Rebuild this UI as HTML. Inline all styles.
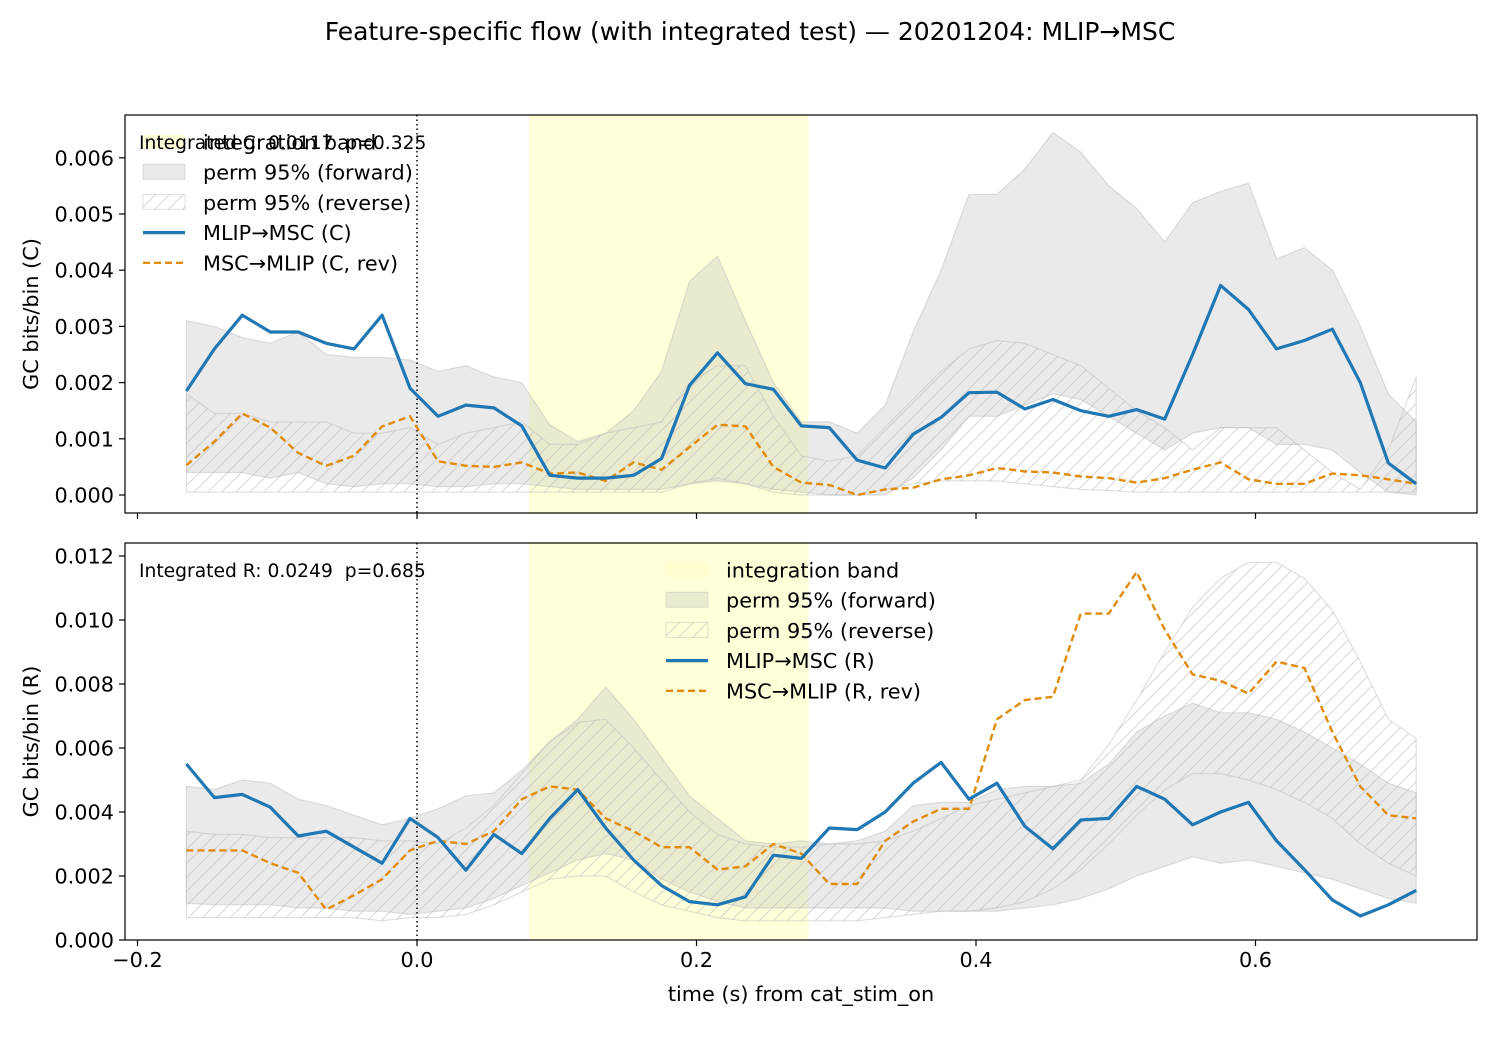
<!DOCTYPE html>
<html><head><meta charset="utf-8"><style>
html,body{margin:0;padding:0;background:#fff;}
svg{display:block;font-family:"DejaVu Sans","Liberation Sans",sans-serif;}
</style></head><body>
<svg id="fig" width="1500" height="1050" viewBox="0 0 1500 1050" xmlns="http://www.w3.org/2000/svg">
<defs>
<pattern id="hatch" patternUnits="userSpaceOnUse" width="14" height="14">
<path d="M0,14 L14,0 M-7,7 L7,-7 M7,21 L21,7" stroke="#bdbdbd" stroke-width="1" stroke-opacity="0.6"/>
</pattern>
</defs>
<rect width="1500" height="1050" fill="#fff"/>
<text x="750" y="40" text-anchor="middle" font-size="25">Feature-specific flow (with integrated test) — 20201204: MLIP→MSC</text>
<g id="p1"></g><g id="p2"></g>
<text x="801" y="1001" text-anchor="middle" font-size="20.8">time (s) from cat_stim_on</text>
</svg>
<script>
const times = [];
for (let i = 0; i < 45; i++) times.push(-0.165 + 0.02 * i);
const xTicks = [-0.2, 0.0, 0.2, 0.4, 0.6];
const xTickLabels = ["−0.2", "0.0", "0.2", "0.4", "0.6"];
const band = [0.08, 0.28];

const cForward = [0.00185,0.0026,0.0032,0.0029,0.0029,0.0027,0.0026,0.0032,0.0019,0.0014,0.0016,0.00155,0.00123,0.00035,0.0003,0.0003,0.00035,0.00065,0.00195,0.00253,0.00198,0.00188,0.00123,0.0012,0.00062,0.00048,0.00108,0.00138,0.00182,0.00183,0.00153,0.0017,0.0015,0.0014,0.00152,0.00135,0.0025,0.00373,0.0033,0.0026,0.00275,0.00295,0.002,0.00057,0.0002];
const cReverse = [0.00053,0.00095,0.00145,0.0012,0.00075,0.00052,0.0007,0.00122,0.0014,0.0006,0.00052,0.0005,0.00058,0.00038,0.0004,0.00025,0.00058,0.00045,0.00085,0.00125,0.00122,0.0005,0.00022,0.00018,0.0,0.0001,0.00013,0.00028,0.00035,0.00048,0.00042,0.0004,0.00033,0.0003,0.00022,0.0003,0.00045,0.00058,0.00028,0.0002,0.0002,0.00038,0.00035,0.00028,0.0002];
const cFwdHi = [0.0031,0.003,0.0028,0.0027,0.0029,0.0025,0.00245,0.00245,0.0024,0.0022,0.0023,0.0021,0.002,0.00125,0.00095,0.0011,0.0015,0.0022,0.0038,0.00425,0.0031,0.002,0.0013,0.0013,0.0011,0.0016,0.0029,0.004,0.00535,0.00535,0.0058,0.00645,0.0061,0.0055,0.0051,0.0045,0.0052,0.0054,0.00555,0.0042,0.0044,0.004,0.003,0.0018,0.0013];
const cFwdLo = [0.0004,0.0004,0.0004,0.0003,0.0004,0.0002,0.00015,0.0002,0.0002,0.00015,0.00015,0.0002,0.0002,0.00015,0.0001,0.0001,0.0001,0.0001,0.0002,0.00025,0.0002,0.0001,0.00005,0.0,0.0,0.0,0.0003,0.0008,0.0014,0.0014,0.0016,0.0018,0.0017,0.0014,0.0011,0.0008,0.0011,0.0012,0.0012,0.0009,0.0009,0.0008,0.0004,0.00005,0.0];
const cRevHi = [0.0018,0.00145,0.00145,0.0013,0.0013,0.0013,0.0011,0.0011,0.0012,0.0009,0.0011,0.0012,0.0013,0.0009,0.0009,0.0011,0.0012,0.0013,0.002,0.0023,0.0023,0.0014,0.0007,0.0006,0.0007,0.0012,0.0017,0.0022,0.0026,0.00275,0.0027,0.0025,0.0023,0.0019,0.0015,0.0012,0.0008,0.0012,0.0012,0.0012,0.0008,0.0004,0.0001,0.0008,0.0021];
const cRevLo = [0.00005,0.00005,0.00005,0.00005,0.00005,0.00005,0.00005,0.00005,0.00005,0.00005,0.00005,0.00005,0.00005,0.00005,0.00005,0.00005,0.00005,0.00005,0.0002,0.0003,0.0002,0.00005,0.0,0.0,0.0,0.0001,0.0002,0.00025,0.00025,0.00025,0.0002,0.00015,0.0001,0.00008,0.00005,0.00005,0.00005,0.00005,0.00005,0.00005,0.00005,0.00005,0.00005,0.00005,0.00005];

const rForward = [0.0055,0.00445,0.00455,0.00415,0.00325,0.0034,0.0029,0.0024,0.0038,0.0032,0.00218,0.0033,0.0027,0.0038,0.0047,0.0035,0.0025,0.0017,0.0012,0.0011,0.00135,0.00265,0.00255,0.0035,0.00345,0.004,0.0049,0.00555,0.0044,0.0049,0.00355,0.00285,0.00375,0.0038,0.0048,0.0044,0.0036,0.004,0.0043,0.0031,0.0022,0.00125,0.00075,0.0011,0.00155];
const rReverse = [0.0028,0.0028,0.0028,0.0024,0.0021,0.00095,0.0014,0.0019,0.0028,0.0031,0.003,0.0034,0.0044,0.0048,0.0047,0.0038,0.0034,0.0029,0.0029,0.0022,0.0023,0.003,0.0027,0.00175,0.00175,0.0031,0.0037,0.0041,0.0041,0.0069,0.0075,0.0076,0.0102,0.0102,0.0115,0.0097,0.0083,0.0081,0.0077,0.0087,0.0085,0.0065,0.0048,0.0039,0.0038];
const rFwdHi = [0.0048,0.0047,0.005,0.0049,0.0044,0.0042,0.0039,0.0036,0.0038,0.0041,0.0045,0.0046,0.0053,0.0062,0.0069,0.0079,0.0069,0.0057,0.0045,0.0038,0.0031,0.003,0.0031,0.003,0.0031,0.0034,0.0042,0.0043,0.0043,0.0047,0.0048,0.0048,0.0049,0.0055,0.0065,0.007,0.0074,0.0071,0.0071,0.0069,0.0065,0.006,0.0055,0.0049,0.0046];
const rFwdLo = [0.00115,0.0011,0.0011,0.0011,0.001,0.001,0.0009,0.0009,0.0008,0.0009,0.001,0.0013,0.0017,0.0021,0.0025,0.0027,0.0025,0.0019,0.0015,0.0012,0.001,0.001,0.001,0.001,0.001,0.001,0.0009,0.0009,0.0009,0.0009,0.001,0.0011,0.0013,0.0016,0.002,0.0023,0.0026,0.0024,0.0025,0.0023,0.0021,0.0019,0.0016,0.0013,0.00115];
const rRevHi = [0.0034,0.0033,0.0033,0.0032,0.0032,0.0032,0.0032,0.0031,0.0031,0.003,0.0035,0.0042,0.0052,0.0062,0.0068,0.0069,0.006,0.005,0.004,0.0033,0.003,0.0029,0.0029,0.003,0.003,0.0031,0.0034,0.0038,0.0042,0.0044,0.0046,0.0048,0.005,0.0061,0.0075,0.009,0.0104,0.0113,0.0118,0.0118,0.0113,0.0103,0.0087,0.0069,0.0063];
const rRevLo = [0.0007,0.0007,0.0007,0.0007,0.0007,0.0007,0.0007,0.0006,0.0007,0.0007,0.0008,0.0011,0.0015,0.0019,0.002,0.002,0.0015,0.0011,0.0009,0.0007,0.0006,0.0006,0.0006,0.0006,0.0006,0.0007,0.0008,0.0009,0.0009,0.001,0.0012,0.0016,0.0022,0.003,0.0039,0.0047,0.0052,0.0052,0.005,0.0047,0.0043,0.0038,0.003,0.0024,0.002];

const cTicks = [0, 0.001, 0.002, 0.003, 0.004, 0.005, 0.006];
const cTickLabels = ["0.000","0.001","0.002","0.003","0.004","0.005","0.006"];
const rTicks = [0, 0.002, 0.004, 0.006, 0.008, 0.010, 0.012];
const rTickLabels = ["0.000","0.002","0.004","0.006","0.008","0.010","0.012"];

const NS = "http://www.w3.org/2000/svg";
const L = 125, R = 1477;
const FS = 20.8;
const xs = t => 417 + t * 1397.5;
function mk(parent, tag, attrs, text) {
  const e = document.createElementNS(NS, tag);
  for (const k in attrs) e.setAttribute(k, attrs[k]);
  if (text !== undefined) e.textContent = text;
  parent.appendChild(e);
  return e;
}
function linePath(vals, ys) {
  return vals.map((v, i) => (i ? "L" : "M") + xs(times[i]).toFixed(1) + "," + ys(v).toFixed(1)).join(" ");
}
function areaPath(hi, lo, ys) {
  let d = linePath(hi, ys);
  for (let i = lo.length - 1; i >= 0; i--) d += " L" + xs(times[i]).toFixed(1) + "," + ys(lo[i]).toFixed(1);
  return d + " Z";
}
function panel(g, cfg) {
  const { top, bot, ys, fwd, rev, fHi, fLo, rHi, rLo, ticks, tickLabels, ylab, ann, showX, lg, pfx } = cfg;
  let e;
  e = mk(g, "rect", { x: xs(band[0]), y: top, width: xs(band[1]) - xs(band[0]), height: bot - top, fill: "#ffffcc", "fill-opacity": "0.75" });
  
  
  e = mk(g, "path", { d: areaPath(fHi, fLo, ys), fill: "#bbbbbb", "fill-opacity": "0.3", stroke: "#bbbbbb", "stroke-opacity": "0.45", "stroke-width": "1.2" });
  
  
  e = mk(g, "path", { d: areaPath(rHi, rLo, ys), fill: "url(#hatch)", stroke: "#bbbbbb", "stroke-opacity": "0.45", "stroke-width": "1.2" });
  
  
  e = mk(g, "line", { x1: xs(0), x2: xs(0), y1: top, y2: bot, stroke: "#000", "stroke-width": "1.5", "stroke-dasharray": "1.5,3" });
  
  
  e = mk(g, "path", { d: linePath(rev, ys), fill: "none", stroke: "#e08b0c", "stroke-width": "2.4", "stroke-dasharray": "7,4" });
  
  
  e = mk(g, "path", { d: linePath(fwd, ys), fill: "none", stroke: "#1f77b4", "stroke-width": "3.2", "stroke-linejoin": "round" });
  
  
  e = mk(g, "rect", { x: L, y: top, width: R - L, height: bot - top, fill: "none", stroke: "#000", "stroke-width": "1.2" });
  
  
  ticks.forEach((v, i) => {
    const y = ys(v);
    e = mk(g, "line", { x1: L - 6, x2: L, y1: y, y2: y, stroke: "#000", "stroke-width": "1.2" });
    
    
    e = mk(g, "text", { x: L - 11, y: y + 7.5, "text-anchor": "end", "font-size": FS }, tickLabels[i]);
    
    
  });
  xTicks.forEach((t, i) => {
    e = mk(g, "line", { x1: xs(t), x2: xs(t), y1: bot, y2: bot + 6, stroke: "#000", "stroke-width": "1.2" });
    
    
    if (showX) {
      e = mk(g, "text", { x: xs(t), y: bot + 27, "text-anchor": "middle", "font-size": FS }, xTickLabels[i]);
      
      
    }
  });
  e = mk(g, "text", { x: 38, y: (top + bot) / 2, "text-anchor": "middle", "font-size": FS, transform: `rotate(-90 38 ${(top + bot) / 2})` }, ylab);
  
  
  const names = lg.names;
  names.forEach((nm, i) => {
    const y = lg.y + i * 30.2, px = lg.x;
    if (i === 0) e = mk(g, "rect", { x: px, y: y - 8, width: 42, height: 15, fill: "#ffffcc", "fill-opacity": "0.75" });
    else if (i === 1) e = mk(g, "rect", { x: px, y: y - 8, width: 42, height: 15, fill: "#bbbbbb", "fill-opacity": "0.3", stroke: "#bbbbbb", "stroke-opacity": "0.45" });
    else if (i === 2) e = mk(g, "rect", { x: px, y: y - 8, width: 42, height: 15, fill: "url(#hatch)", stroke: "#bbbbbb", "stroke-opacity": "0.45" });
    else if (i === 3) e = mk(g, "line", { x1: px, x2: px + 42, y1: y, y2: y, stroke: "#1f77b4", "stroke-width": "3.2" });
    else e = mk(g, "line", { x1: px, x2: px + 42, y1: y, y2: y, stroke: "#e08b0c", "stroke-width": "2.4", "stroke-dasharray": "7,4" });
    
    
    e = mk(g, "text", { x: px + 60, y: y + 7.5, "font-size": FS }, nm);
    
    
  });
  e = mk(g, "text", { x: 139, y: top + 34, "font-size": "18.7" }, ann);
  
  
}
panel(document.getElementById("p1"), {
  pfx: "top", top: 115, bot: 513, ys: v => 495 - v * 56200,
  fwd: cForward, rev: cReverse, fHi: cFwdHi, fLo: cFwdLo, rHi: cRevHi, rLo: cRevLo,
  ticks: cTicks, tickLabels: cTickLabels, ylab: "GC bits/bin (C)",
  ann: "Integrated C: 0.0117\u00a0\u00a0p=0.325", showX: false,
  lg: { x: 143, y: 142, names: ["integration band", "perm 95% (forward)", "perm 95% (reverse)", "MLIP→MSC (C)", "MSC→MLIP (C, rev)"] }
});
panel(document.getElementById("p2"), {
  pfx: "bottom", top: 543, bot: 940, ys: v => 940 - v * 32000,
  fwd: rForward, rev: rReverse, fHi: rFwdHi, fLo: rFwdLo, rHi: rRevHi, rLo: rRevLo,
  ticks: rTicks, tickLabels: rTickLabels, ylab: "GC bits/bin (R)",
  ann: "Integrated R: 0.0249\u00a0\u00a0p=0.685", showX: true,
  lg: { x: 666, y: 570, names: ["integration band", "perm 95% (forward)", "perm 95% (reverse)", "MLIP→MSC (R)", "MSC→MLIP (R, rev)"] }
});
</script>
</body></html>
